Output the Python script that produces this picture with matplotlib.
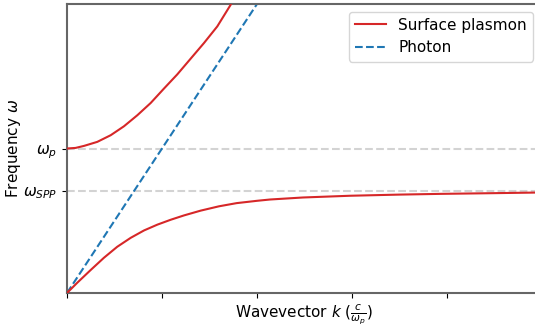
import matplotlib
matplotlib.use("Agg")
import matplotlib.pyplot as plt

# Data (k in units of c/omega_p, omega in units of omega_p)
k_lower = [0.0, 0.108, 0.249, 0.389, 0.529, 0.671, 0.811, 0.951, 1.092, 1.232,
           1.407, 1.60, 1.786, 2.0, 2.137, 2.484, 2.979, 3.5, 3.926, 4.5, 4.93]
w_lower = [0.0, 0.071, 0.159, 0.244, 0.320, 0.382, 0.433, 0.473, 0.507, 0.537,
           0.570, 0.600, 0.622, 0.638, 0.647, 0.661, 0.673, 0.681, 0.686, 0.691, 0.695]

k_upper = [0.0, 0.09, 0.179, 0.319, 0.460, 0.600, 0.740, 0.881, 1.021, 1.161,
           1.302, 1.442, 1.582, 1.723]
w_upper = [1.0, 1.004, 1.018, 1.046, 1.092, 1.154, 1.230, 1.315, 1.415, 1.513,
           1.622, 1.730, 1.845, 1.995]

k_photon = [0.0, 2.0]
w_photon = [0.0, 2.0]

w_p = 1.0
w_spp = 0.707
ytick_vals = [w_spp, w_p]
ytick_labels = [r'$\omega_{SPP}$', r'$\omega_p$']
xtick_vals = [0, 1, 2, 3, 4]

fig = plt.figure(figsize=(5.35, 3.26), dpi=100)
ax = fig.add_axes([67/535, 33/326, 468/535, 289/326])

ax.axhline(w_p, color='lightgray', ls='--', lw=1.5, zorder=1)
ax.axhline(w_spp, color='lightgray', ls='--', lw=1.5, zorder=1)

ax.plot(k_lower, w_lower, color='#d62728', lw=1.5, label='Surface plasmon', zorder=3)
ax.plot(k_upper, w_upper, color='#d62728', lw=1.5, zorder=3)
ax.plot(k_photon, w_photon, color='#1f77b4', ls='--', lw=1.5, label='Photon', zorder=2)

ax.set_xlim(0, 468/95)
ax.set_ylim(0, 2.0)
ax.set_xticks(xtick_vals)
ax.set_xticklabels([])
ax.set_yticks(ytick_vals)
ax.set_yticklabels(ytick_labels, fontsize=11)

for side in ['left', 'top', 'bottom']:
    ax.spines[side].set_color('#666666')
    ax.spines[side].set_linewidth(1.5)
ax.spines['right'].set_visible(False)

ax.set_xlabel(r'Wavevector $k$ ($\frac{c}{\omega_p}$)', fontsize=11)
ax.set_ylabel(r'Frequency $\omega$', fontsize=11)
ax.xaxis.set_label_coords(0.5075, -0.031)
ax.yaxis.set_label_coords(-0.095, 0.5)

ax.legend(loc='upper right', bbox_to_anchor=(1.012, 1.0), fontsize=11)

fig.savefig('out.png', dpi=100)
